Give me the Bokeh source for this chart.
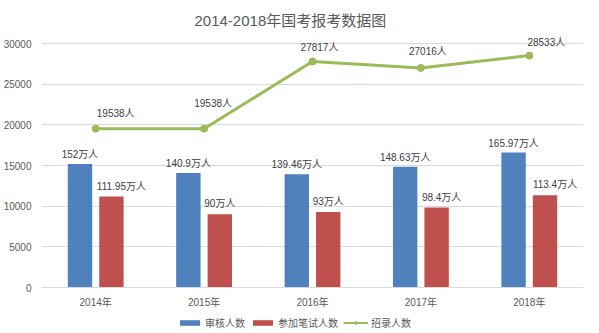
from bokeh.plotting import figure
from bokeh.layouts import column
from bokeh.models import ColumnDataSource, FactorRange, Range1d, Legend, LegendItem, FixedTicker
from bokeh.transform import dodge
from bokeh.core.properties import value
from bokeh.embed import file_html
from bokeh.resources import INLINE

# ---- data ----
years = ["2014年", "2015年", "2016年", "2017年", "2018年"]
audit_wan = [152, 140.9, 139.46, 148.63, 165.97]      # 审核人数 (万人)
exam_wan = [111.95, 90, 93, 98.4, 113.4]              # 参加笔试人数 (万人)
hired = [19538, 19538, 27817, 27016, 28533]           # 招录人数 (人)
y_ticks = [0, 5000, 10000, 15000, 20000, 25000, 30000]
series_names = ["审核人数", "参加笔试人数", "招录人数"]

# ---- label styling offsets (pixels) ----
exam_dx = [10, 0, 0, 5, 10]
hired_dx = [20, 9, 7, 7, 17]
hired_dy = [-10, -20, -8, -11, -8]

FONT = "Liberation Sans, Noto Sans CJK SC"
BLUE, RED, GREEN = "#4F81BD", "#C0504D", "#9BBB59"
GRAY = "#595959"
NAN = float("nan")

src = ColumnDataSource(dict(
    year=years,
    audit=[v * 100 for v in audit_wan],
    exam=[v * 100 for v in exam_wan],
    hired=hired,
    audit_lbl=[f"{v:g}万人" for v in audit_wan],
    exam_lbl=[f"{v:g}万人" for v in exam_wan],
    hired_lbl=[f"{v}人" for v in hired],
    exam_dx=exam_dx,
    hired_dx=hired_dx,
    hired_dy=hired_dy,
))

p = figure(x_range=FactorRange(*years), y_range=Range1d(0, 31500),
           width=599, height=310, output_backend="svg", toolbar_location=None,
           min_border_left=37, min_border_right=16, min_border_top=31, min_border_bottom=23)

p.title.text = "2014-2018年国考报考数据图"
p.title.align = "left"
p.title.offset = 153
p.title.text_font = FONT
p.title.text_font_size = "15px"
p.title.text_font_style = "normal"
p.title.text_color = GRAY
p.title.standoff = 6

p.outline_line_color = None
p.xgrid.grid_line_color = None
p.ygrid.grid_line_color = "#d9d9d9"
p.yaxis.ticker = FixedTicker(ticks=y_ticks)
p.yaxis.axis_line_color = None
p.yaxis.major_tick_line_color = None
p.yaxis.minor_tick_line_color = None
p.yaxis.major_label_standoff = 4
p.yaxis.major_label_text_font = FONT
p.yaxis.major_label_text_font_size = "10px"
p.yaxis.major_label_text_color = GRAY
p.xaxis.axis_line_color = "#d9d9d9"
p.xaxis.major_tick_line_color = None
p.xaxis.minor_tick_line_color = None
p.xaxis.major_label_standoff = 3
p.xaxis.major_label_text_font = FONT
p.xaxis.major_label_text_font_size = "10px"
p.xaxis.major_label_text_color = GRAY

bw = 0.225
p.vbar(x=dodge("year", -0.145, range=p.x_range), top="audit", width=bw,
       source=src, fill_color=BLUE, line_color=None)
p.vbar(x=dodge("year", 0.145, range=p.x_range), top="exam", width=bw,
       source=src, fill_color=RED, line_color=None)
p.line(x="year", y="hired", source=src, line_color=GREEN, line_width=3)
p.scatter(x="year", y="hired", source=src, size=7, fill_color=GREEN, line_color=GREEN)

lbl_kw = dict(source=src, text_font_size="10px", text_color="#404040", text_font=value(FONT))
p.text(x=dodge("year", -0.145, range=p.x_range), y="audit", text="audit_lbl",
       text_align="center", text_baseline="bottom", y_offset=-4, **lbl_kw)
p.text(x=dodge("year", 0.145, range=p.x_range), y="exam", text="exam_lbl", x_offset="exam_dx",
       text_align="center", text_baseline="bottom", y_offset=-5, **lbl_kw)
p.text(x="year", y="hired", text="hired_lbl", x_offset="hired_dx", y_offset="hired_dy",
       text_align="center", text_baseline="bottom", **lbl_kw)

# ---- legend strip below the chart (swatch renderers hold no visible data) ----
lg = figure(width=599, height=23, output_backend="svg", toolbar_location=None,
            x_range=Range1d(0, 1), y_range=Range1d(0, 1), min_border=0)
lg.axis.visible = False
lg.grid.grid_line_color = None
lg.outline_line_color = None
d_a = lg.vbar(x=[NAN], top=[NAN], width=0.1, fill_color=BLUE, line_color=None)
d_e = lg.vbar(x=[NAN], top=[NAN], width=0.1, fill_color=RED, line_color=None)
d_l = lg.line(x=[NAN], y=[NAN], line_color=GREEN, line_width=2)
d_p = lg.scatter(x=[NAN], y=[NAN], size=5, fill_color=GREEN, line_color=GREEN)

legend = Legend(items=[
    LegendItem(label=series_names[0], renderers=[d_a]),
    LegendItem(label=series_names[1], renderers=[d_e]),
    LegendItem(label=series_names[2], renderers=[d_l, d_p]),
], orientation="horizontal", location=(136, 3))
legend.glyph_width = 25
legend.glyph_height = 7
legend.label_height = 12
legend.label_standoff = 3
legend.spacing = 5
legend.padding = 2
legend.margin = 0
legend.border_line_color = None
legend.background_fill_alpha = 0
legend.label_text_font = FONT
legend.label_text_font_size = "10px"
legend.label_text_color = GRAY
lg.add_layout(legend)

layout = column(p, lg, spacing=0)
open("out.html", "w").write(file_html(layout, INLINE))
